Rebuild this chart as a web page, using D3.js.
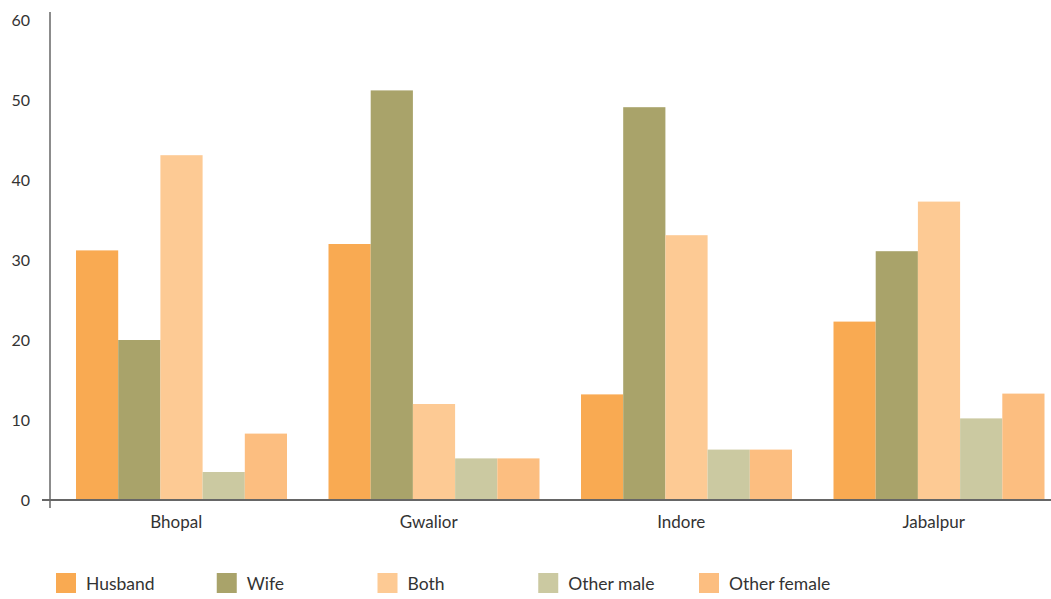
<!DOCTYPE html>
<html>
<head>
<meta charset="utf-8">
<script src="https://cdn.jsdelivr.net/npm/d3@7"></script>
<style>
  html, body { margin: 0; padding: 0; background: #fff; }
  svg text { font-family: Lato, "Noto Sans", sans-serif; fill: #333; }
</style>
</head>
<body>
<svg id="chart" width="1051" height="599"></svg>
<script>
// Cities along the x axis
const cities = ["Bhopal", "Gwalior", "Indore", "Jabalpur"];
// Who takes the decision (one bar per series in each city)
const series = ["Husband", "Wife", "Both", "Other male", "Other female"];
// Percentages per series, in city order
const husband = [31.2, 32, 13.2, 22.3];
const wife = [20, 51.2, 49.1, 31.1];
const both = [43.1, 12, 33.1, 37.3];
const otherMale = [3.5, 5.2, 6.3, 10.2];
const otherFemale = [8.3, 5.2, 6.3, 13.3];
// Y axis ticks
const yTicks = [0, 10, 20, 30, 40, 50, 60];

const seriesValues = [husband, wife, both, otherMale, otherFemale];
const colors = ["#F9AA52", "#A9A36A", "#FDCA94", "#CBC9A1", "#FCBE80"];

const svg = d3.select("#chart");
const x0 = 50, yTop = 20, yBottom = 500;

const y = d3.scaleLinear().domain([0, 60]).range([yBottom, yTop]);
const xCity = d3.scaleBand().domain(cities).range([x0, x0 + 252.5 * cities.length]).padding(0);
const xSeries = d3.scaleBand().domain(series).range([26, 237]).padding(0);

// Bars
const groups = svg.append("g").selectAll("g")
  .data(cities)
  .join("g")
  .attr("transform", d => `translate(${xCity(d)},0)`);

groups.selectAll("rect")
  .data((c, ci) => series.map((s, si) => ({ s, si, v: seriesValues[si][ci] })))
  .join("rect")
  .attr("x", d => xSeries(d.s))
  .attr("width", xSeries.bandwidth())
  .attr("y", d => y(d.v))
  .attr("height", d => yBottom - y(d.v))
  .attr("fill", d => colors[d.si]);

// Y axis
const yAxis = svg.append("g")
  .attr("transform", `translate(${x0},0)`)
  .call(d3.axisLeft(y).tickValues(yTicks).tickSize(0).tickPadding(20));
yAxis.select(".domain").remove();
yAxis.selectAll("text").attr("font-size", 16).style("fill", "#333");

svg.append("line")
  .attr("x1", x0).attr("x2", x0).attr("y1", 12).attr("y2", 508)
  .attr("stroke", "#666").attr("stroke-width", 1.5);

// X axis
const xAxis = svg.append("g")
  .attr("transform", `translate(0,${yBottom})`)
  .call(d3.axisBottom(xCity).tickSize(0).tickPadding(16));
xAxis.select(".domain").remove();
xAxis.selectAll("text").attr("font-size", 17).style("fill", "#333");

svg.append("line")
  .attr("x1", 42).attr("x2", 1051).attr("y1", yBottom).attr("y2", yBottom)
  .attr("stroke", "#666").attr("stroke-width", 2);

// Legend
const legend = svg.append("g").attr("transform", "translate(56,573)");
const items = legend.selectAll("g")
  .data(series)
  .join("g")
  .attr("transform", (d, i) => `translate(${i * 160.75},0)`);
items.append("rect")
  .attr("width", 20).attr("height", 20)
  .attr("fill", (d, i) => colors[i]);
items.append("text")
  .attr("x", 30).attr("y", 16.5)
  .attr("font-size", 17.5)
  .text(d => d);
</script>
</body>
</html>
